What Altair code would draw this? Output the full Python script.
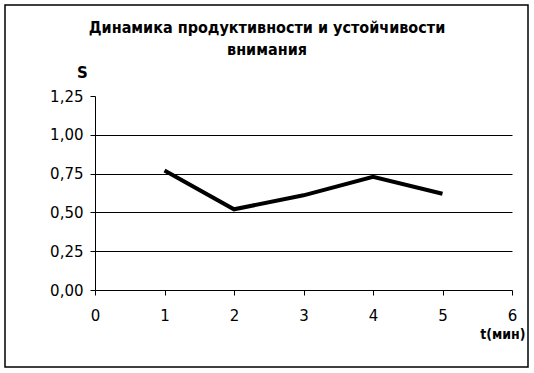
import altair as alt
import pandas as pd

t_values = [1, 2, 3, 4, 5]
s_values = [0.77, 0.52, 0.61, 0.73, 0.62]
y_ticks = [0, 0.25, 0.5, 0.75, 1.0, 1.25]
x_ticks = [0, 1, 2, 3, 4, 5, 6]
title_lines = ["Динамика продуктивности и устойчивости", "внимания"]

df = pd.DataFrame({"t": t_values, "s": s_values})

W, H = 417, 194

line = alt.Chart(df).mark_line(color="black", strokeWidth=4, strokeJoin="miter", clip=False).encode(
    x=alt.X("t:Q",
            scale=alt.Scale(domain=[0, 6], nice=False, zero=False),
            axis=alt.Axis(values=x_ticks, title="t(мин)", grid=False,
                          domainColor="black", tickColor="black", tickSize=5,
                          labelFont="DejaVu Sans", labelFontSize=15, labelColor="black",
                          labelPadding=13, labelFlush=False,
                          titleFont="DejaVu Sans Condensed", titleFontSize=14, titleFontWeight="bold",
                          titleColor="black", titleAnchor="end", titleAlign="right",
                          titleX=430, titleY=44, titleBaseline="middle")),
    y=alt.Y("s:Q",
            scale=alt.Scale(domain=[0, 1.25], nice=False),
            axis=alt.Axis(values=y_ticks, title="S",
                          labelExpr="replace(format(datum.value, '.2f'), '.', ',')",
                          grid=True,
                          gridColor={"condition": {"test": "datum.value >= 1.2 || datum.value <= 0.01", "value": "transparent"}, "value": "black"},
                          gridWidth=1,
                          domainColor="black", tickColor="black", tickSize=5,
                          labelFont="DejaVu Sans", labelFontSize=15, labelColor="black",
                          labelPadding=7, labelFlush=False,
                          titleFont="DejaVu Sans", titleFontSize=15, titleFontWeight="bold",
                          titleColor="black", titleAngle=0, titleAlign="center",
                          titleX=-13, titleY=-24, titleBaseline="middle")),
)

frame = alt.Chart(pd.DataFrame({"a": [0]})).mark_rect(
    fill=None, stroke="black", strokeWidth=1.5, clip=False
).encode(
    x=alt.value(-90), x2=alt.value(433), y=alt.value(-91), y2=alt.value(271)
)

title1 = alt.Chart(pd.DataFrame({"txt": [title_lines[0]]})).mark_text(
    font="DejaVu Sans Condensed", fontSize=16, fontWeight="bold", color="black",
    align="center", baseline="middle", clip=False
).encode(text="txt:N", x=alt.value(172), y=alt.value(-68))
title2 = alt.Chart(pd.DataFrame({"txt": [title_lines[1]]})).mark_text(
    font="DejaVu Sans Condensed", fontSize=16, fontWeight="bold", color="black",
    align="center", baseline="middle", clip=False
).encode(text="txt:N", x=alt.value(172), y=alt.value(-46))

chart = alt.layer(frame, line, title1, title2).properties(
    width=W, height=H,
    padding={"left": 95, "top": 96, "right": 22, "bottom": 83},
    autosize=alt.AutoSizeParams(type="none"),
    background="white",
).configure_view(stroke=None)

chart.save("out.html", embed_options={"renderer": "svg", "actions": False})
